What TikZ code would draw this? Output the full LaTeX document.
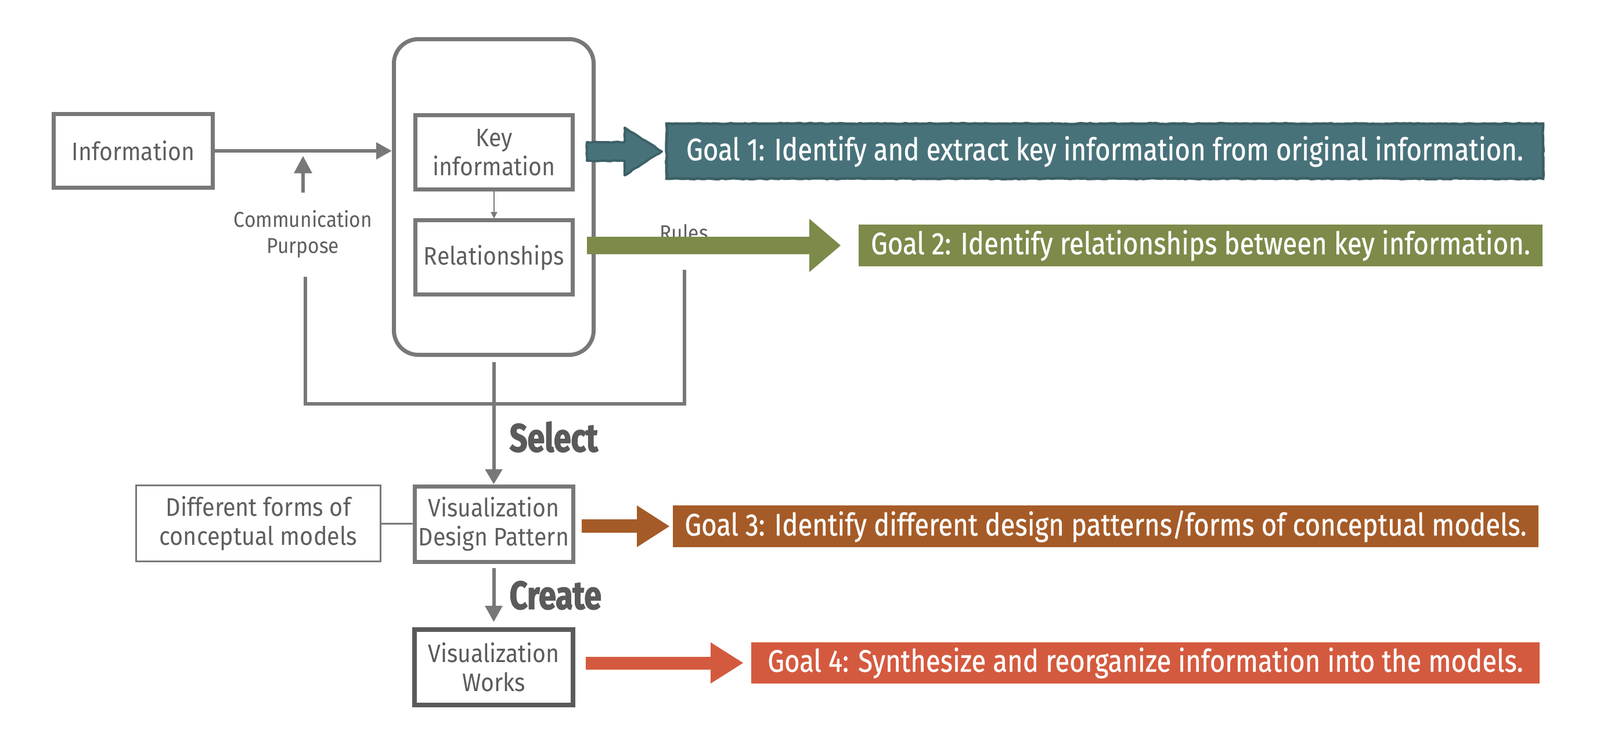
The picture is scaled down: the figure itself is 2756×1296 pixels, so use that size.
\documentclass[tikz,border=0pt]{standalone}
\usepackage{fontspec}
\setmainfont{Fira Sans}
\newfontfamily\boxfont{Fira Sans}[FakeStretch=0.9]
\newfontfamily\goalfont{Fira Sans}[FakeStretch=0.85,FakeBold=0.6]
\newfontfamily\verbfont{Fira Sans Bold}[FakeStretch=0.79,FakeBold=2]
\usetikzlibrary{arrows.meta,decorations.pathmorphing}
\definecolor{linegray}{HTML}{787878}
\definecolor{textgray}{HTML}{5E5E5E}
\definecolor{darkgray}{HTML}{5A5A5A}
\definecolor{goalteal}{HTML}{48727A}
\definecolor{tealedge}{HTML}{3C6066}
\definecolor{goalolive}{HTML}{7C8A4A}
\definecolor{goalbrown}{HTML}{A55B27}
\definecolor{goalred}{HTML}{D45A3F}
\begin{document}
\begin{tikzpicture}[x=0.25pt,y=-0.25pt,
  box/.style={draw=linegray, line width=1.75pt, inner sep=0pt, text=textgray,
    align=center, font=\boxfont\fontsize{10.9}{12.6}\selectfont},
  thinbox/.style={draw=linegray, line width=0.75pt, inner sep=0pt, text=textgray,
    align=center, font=\boxfont\fontsize{11}{12.3}\selectfont},
  smalltext/.style={inner sep=0pt, text=textgray, align=center,
    font=\boxfont\fontsize{9.3}{11.25}\selectfont},
  verbtext/.style={inner sep=0pt, text=darkgray, font=\verbfont\fontsize{17}{20}\selectfont},
  goalbox/.style={inner sep=0pt, text=white, font=\goalfont\fontsize{13.4}{15}\selectfont},
  conn/.style={draw=linegray, line width=1.5pt},
  arr/.style={conn, -{Triangle[length=6.5pt,width=7.25pt]}},
]
\useasboundingbox (0,0) rectangle (2756,1296);

% main boxes
\node[box, minimum width=68.5pt, minimum height=31.75pt] (info) at (229.5,260) {Information};
\node[draw=linegray, line width=1.75pt, rounded corners=10.5pt, minimum width=86pt,
      minimum height=136pt, inner sep=0pt] (core) at (850.5,339.5) {};
\node[box, minimum width=67.75pt, minimum height=32pt] (key) at (851,262.5) {Key\\information};
\node[box, minimum width=67.75pt, minimum height=31.9pt] (rel) at (851,443.7) {Relationships};
\node[box, minimum width=68.25pt, minimum height=32.5pt] (vdp) at (850.5,903) {Visualization\\Design Pattern};
\node[thinbox, minimum width=105.25pt, minimum height=32.75pt] (forms) at (445,902) {Different forms of\\conceptual models};
\node[box, draw=darkgray, line width=2pt, text=darkgray, minimum width=68.25pt, minimum height=32.5pt] (works) at (850.5,1150) {Visualization\\Works};

% labels
\node[smalltext] (purpose) at (522,403) {Communication\\Purpose};
\node[smalltext, anchor=base] (rules) at (1178,414) {Rules};
\node[verbtext, anchor=west] (select) at (877,753) {Select};
\node[verbtext, anchor=west] (create) at (877,1026) {Create};

% connectors
\draw[conn, -{Triangle[length=6.75pt,width=7pt]}] (info) -- (core.west |- info);
\coordinate (cpTail) at (522,331.5);
\coordinate (cpTip) at (522,268.6);
\draw[conn, -{Triangle[length=7.5pt,width=7.5pt]}] (cpTail) -- (cpTip);
\draw[draw=linegray, line width=0.5pt, -{Triangle[length=2.75pt,width=2.75pt]}] (key) -- (rel);
\draw[arr, shorten <=2.25pt] (core) -- (vdp);
\draw[arr, -{Triangle[length=7pt,width=7.25pt]}, shorten <=1.75pt, shorten >=2.25pt] (vdp) -- (works);
\draw[draw=linegray, line width=0.75pt] (forms) -- (vdp);

\coordinate (cpLow) at (526,477);
\coordinate (bl) at (526,695.5);
\coordinate (br) at (1179,695.5);
\coordinate (rulesLow) at (1179,465);
\draw[conn] (cpLow) -- (bl) -- (br) -- (rulesLow);

% goal boxes
\node[goalbox, fill=goalteal, minimum width=377pt, minimum height=23.25pt] (g1) at (1903,260.5) {};
\draw[tealedge, line width=1.2pt, decorate, decoration={random steps,segment length=1.5pt,amplitude=0.2pt}]
  (g1.north west) rectangle (g1.south east);
\node[goalbox] (g1t) at (1903,261) {Goal 1: Identify and extract key information from original information.};
\node[goalbox, fill=goalolive, minimum width=294.5pt, minimum height=18pt] (g2) at (2068,423) {Goal 2: Identify relationships between key information.};
\node[goalbox, fill=goalbrown, minimum width=372.75pt, minimum height=18pt] (g3) at (1904.5,907) {Goal 3: Identify different design patterns/forms of conceptual models.};
\node[goalbox, fill=goalred, minimum width=339.5pt, minimum height=17.75pt] (g4) at (1973,1142.5) {Goal 4: Synthesize and reorganize information into the models.};

% goal arrows
\filldraw[fill=goalteal, draw=tealedge, line width=1pt, line join=round,
  decorate, decoration={random steps,segment length=1.5pt,amplitude=0.2pt}]
  (1011,245) -- (1076,245) -- (1076,220) -- (1140,261) -- (1076,302) -- (1076,277) -- (1011,277) -- cycle;
\fill[goalolive] (1011,408) -- (1394,408) -- (1394,377) -- (1448,423) -- (1394,469) -- (1394,438) -- (1011,438) -- cycle;
\fill[goalbrown] (1002,895) -- (1097,895) -- (1097,871) -- (1153,907) -- (1097,943) -- (1097,918) -- (1002,918) -- cycle;
\fill[goalred] (1009,1132) -- (1224,1132) -- (1224,1107) -- (1280,1142.5) -- (1224,1178) -- (1224,1154) -- (1009,1154) -- cycle;
\end{tikzpicture}
\end{document}
